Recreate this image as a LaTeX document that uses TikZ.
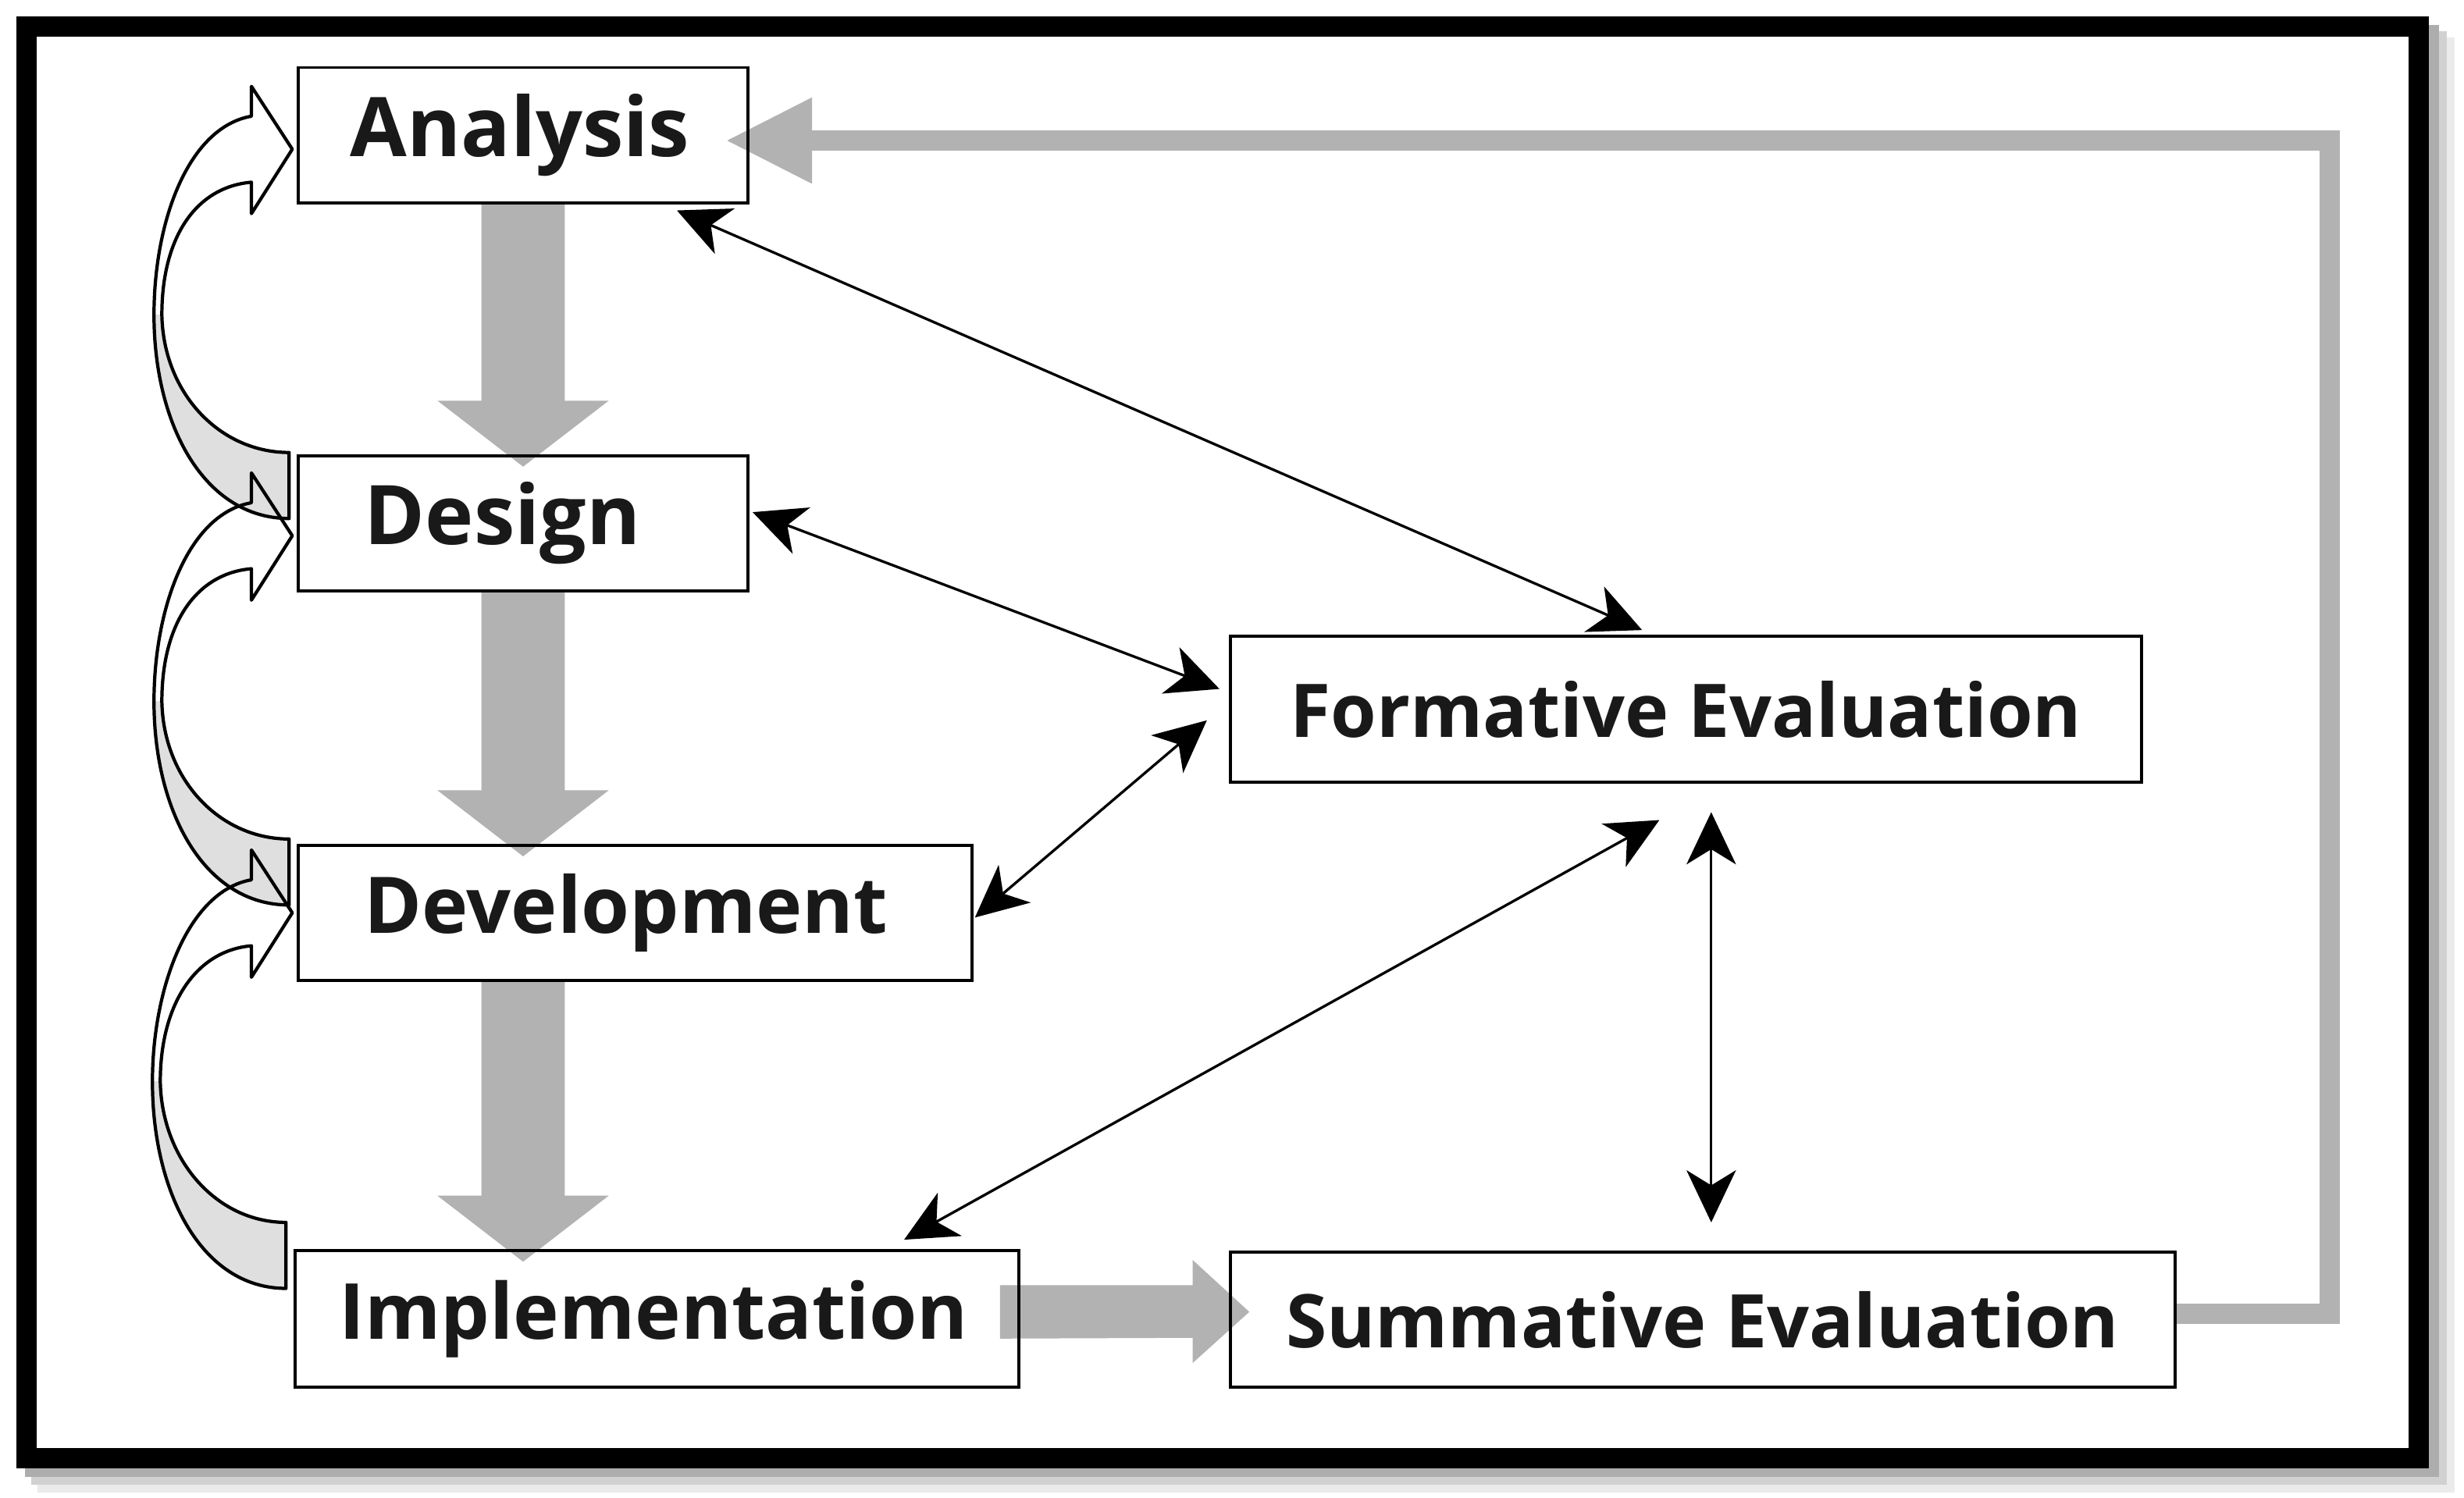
\documentclass[tikz,border=0pt]{standalone}
\usepackage{fontspec}
\setmainfont{Open Sans}
\usepackage{tikz}
\usetikzlibrary{arrows.meta,calc,backgrounds}
\newcommand{\unitpx}{0.2013mm}
\colorlet{flow}{black!30}
\tikzset{box/.style={rectangle,draw,line width=1.1pt,inner ysep=0pt,anchor=north west,text=black!90,font=\bfseries\fontsize{30}{34}\selectfont},
	step box/.style={box,align=left},
}
\newcommand{\loopband}{(Q) .. controls ($(Q)+(-44,0)$) and ($(M)+(-81,59)$) .. ($(M)+(-82,9)$)
	.. controls ($(M)+(-82,-41)$) and ($(P)+(-61,24)$) .. ($(P)+(-26,21)$)
	-- ($(P)+(-26,41)$) -- (P) -- ($(P)+(-26,-40)$) -- ($(P)+(-26,-21)$)
	.. controls ($(P)+(-66,-14)$) and ($(M)+(-87,-51)$) .. ($(M)+(-87,9)$)
	.. controls ($(M)+(-87,79)$) and ($(Q)+(-54,42)$) .. ($(Q)+(0,42)$) -- cycle}

\begin{document}
\begin{tikzpicture}[x=\unitpx,y=-\unitpx,>={Stealth[length=19pt,width=18pt,inset=5.5pt]},
		link/.style={<->,line width=0.95pt},
		band/.style={line width=1.2pt,line join=round}]
	
	\useasboundingbox (0,0) rectangle (1568,953.3);
	\begin{scope}[on background layer]
		\fill[white] (0,0) rectangle (1568,953.3);
		\fill[black!8] (24,24) rectangle (1562,950);
		\fill[black!18] (20,20) rectangle (1557,945);
		\fill[black!32] (16,16) rectangle (1552,940);
		\draw[line width=7.4pt,fill=white] (16.9,16.9) rectangle (1539,928);
	\end{scope}
	
	\node[step box,inner xsep=18.8pt,text width=126.1pt,minimum height=86*\unitpx] (ana) at (189,42) {Analysis};
	\node[step box,inner xsep=24pt,text width=115.8pt,minimum height=86*\unitpx] (des) at (189,289) {Design};
	\node[step box,inner xsep=24pt,text width=197.4pt,minimum height=86*\unitpx,font=\bfseries\fontsize{28.5}{32}\selectfont] (dev) at (189,537) {Development};
	\node[step box,inner xsep=16pt,text width=231.7pt,minimum height=87*\unitpx,font=\bfseries\fontsize{28.2}{32}\selectfont] (imp) at (187,795) {Implementation};
	\node[box,inner xsep=0pt,minimum width=580*\unitpx,minimum height=93*\unitpx,font=\bfseries\fontsize{27}{30}\selectfont] (form) at (782,404) {Formative Evaluation};
	\node[box,inner xsep=0pt,minimum width=601*\unitpx,minimum height=86*\unitpx,font=\bfseries\fontsize{27}{30}\selectfont] (sum) at (782,796) {Summative Evaluation};
	
	\begin{scope}[on background layer]
		\foreach \a/\b in {ana/des,des/dev,dev/imp}{
			\fill[flow] ($(ana.south |- \a.south)+(-26.5,0)$) -- ($(ana.south |- \b.north)+(-26.5,-34)$) -- ++(-28,0)
			-- ($(ana.south |- \b.north)+(0,8)$) -- ($(ana.south |- \b.north)+(54.5,-34)$) -- ++(-28,0)
			-- ($(ana.south |- \a.south)+(26.5,0)$) -- cycle;
		}
		\fill[flow] ($(imp.east)+(-13,-21.5)$) -- ($(sum.west |- imp.east)+(-23,-21.5)$) -- ++(0,-16)
		-- ($(sum.west |- imp.east)+(13,-4.5)$) -- ($(sum.west |- imp.east)+(-23,28)$) -- ++(0,-16)
		-- ($(imp.east)+(-13,12.5)$) -- cycle;
		\coordinate (fb) at ($(ana.east)+(1006,3.5)$);
		\draw[flow,line width=7.4pt] ($(sum.east)+(0,-4)$) -| (fb) -- ($(ana.east |- fb)+(40,0)$);
		\fill[flow] ($(ana.east |- fb)+(40,-27.5)$) -- ($(ana.east |- fb)+(-14,0)$) -- ($(ana.east |- fb)+(40,27.5)$) -- cycle;
	\end{scope}
	
	\draw[link] ($(ana.south east)+(-46,4)$) -- ($(form.north)+(-28,-3)$);
	\draw[link] ($(des.east)+(2,-7)$) -- ($(form.west)+(-6,-13)$);
	\draw[link] ($(dev.east)+(1,3)$) -- ($(form.west)+(-14,7)$);
	\draw[link] ($(imp.north east)+(-74,-6)$) -- ($(form.south)+(-17,23)$);
	\draw[link] ($(form.south)+(16,18)$) -- ($(sum.north)+(5.5,-18)$);
	
	\foreach \up/\lo/\dt/\dq in {ana/des/9/-1,des/dev/8/-3,dev/imp/0/-17}{
		\coordinate (P) at ($(\up.west)+(-3,\dt)$);
		\coordinate (Q) at ($(\lo.north west)+(-5,\dq)$);
		\coordinate (M) at ($(P)!0.5!(Q)$);
		\begin{scope}
			\clip ($(M)+(-120,9)$) rectangle ($(Q)+(10,60)$);
			\fill[gray!25] \loopband;
		\end{scope}
		\draw[band] \loopband;
	}
\end{tikzpicture}
\end{document}
